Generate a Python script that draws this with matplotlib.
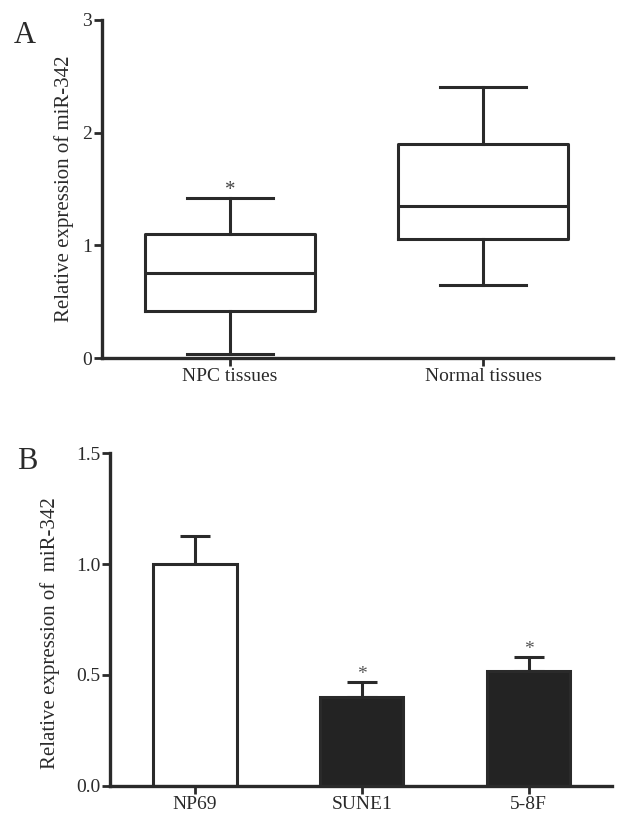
import matplotlib
matplotlib.use("Agg")
import matplotlib.pyplot as plt

plt.rcParams["font.family"] = ["Liberation Serif", "DejaVu Serif"]

# panel A: box plot summaries
box_labels = ["NPC tissues", "Normal tissues"]
box_whislo = [0.04, 0.65]
box_q1 = [0.42, 1.06]
box_med = [0.76, 1.35]
box_q3 = [1.10, 1.90]
box_whishi = [1.42, 2.41]

# panel B: bar chart
cell_lines = ["NP69", "SUNE1", "5-8F"]
cell_means = [1.00, 0.40, 0.52]
cell_err = [0.125, 0.068, 0.06]
cell_colors = ["white", "#232323", "#232323"]
cell_star = [False, True, True]

ink = "#2a2a2a"
lw = 2.2

fig = plt.figure(figsize=(6.17, 8.16), dpi=100)

# ---- A ----
axA = fig.add_axes([0.165, 0.561, 0.829, 0.4145])
stats = []
for i, lab in enumerate(box_labels):
    stats.append(dict(label=lab, whislo=box_whislo[i], q1=box_q1[i], med=box_med[i],
                      q3=box_q3[i], whishi=box_whishi[i], fliers=[]))
line_kw = dict(color=ink, linewidth=lw)
axA.bxp(stats, positions=[1, 2], widths=0.67, capwidths=0.34, showfliers=False,
        boxprops=line_kw, whiskerprops=line_kw, capprops=line_kw,
        medianprops=line_kw)
axA.text(1, box_whishi[0] + 0.07, "*", ha="center", va="center", fontsize=15, color="#444444")
axA.set_xlim(0.494, 2.514)
axA.set_ylim(0, 3)
axA.set_yticks([0, 1, 2, 3])
axA.set_ylabel("Relative expression of miR-342", fontsize=15, color=ink, labelpad=6)
fig.text(0.022, 0.947, "A", fontsize=22, color=ink)

# ---- B ----
axB = fig.add_axes([0.178, 0.0368, 0.814, 0.408])
x = range(len(cell_lines))
axB.bar(x, cell_means, width=0.5, color=cell_colors, edgecolor=ink, linewidth=lw, zorder=2)
axB.errorbar(x, cell_means, yerr=[[0] * len(cell_err), cell_err], fmt="none",
             ecolor=ink, elinewidth=lw, capsize=11, capthick=lw, zorder=1)
for i in x:
    if cell_star[i]:
        axB.text(i, cell_means[i] + cell_err[i] + 0.035, "*", ha="center", va="center",
                 fontsize=14, color="#555555")
axB.set_xticks(list(x))
axB.set_xticklabels(cell_lines)
axB.set_xlim(-0.51, 2.50)
axB.set_ylim(0, 1.5)
axB.set_yticks([0, 0.5, 1.0, 1.5])
axB.set_yticklabels(["0.0", "0.5", "1.0", "1.5"])
axB.set_ylabel("Relative expression of  miR-342", fontsize=15, color=ink)
axB.yaxis.set_label_coords(-0.10, 0.46)
fig.text(0.027, 0.425, "B", fontsize=22, color=ink)

for ax in (axA, axB):
    for s in ("top", "right"):
        ax.spines[s].set_visible(False)
    for s in ("left", "bottom"):
        ax.spines[s].set_linewidth(2.4)
        ax.spines[s].set_color(ink)
    ax.tick_params(direction="out", length=6, width=2, color=ink,
                   labelsize=14, labelcolor=ink, pad=1)

fig.savefig("out.png", dpi=100)
